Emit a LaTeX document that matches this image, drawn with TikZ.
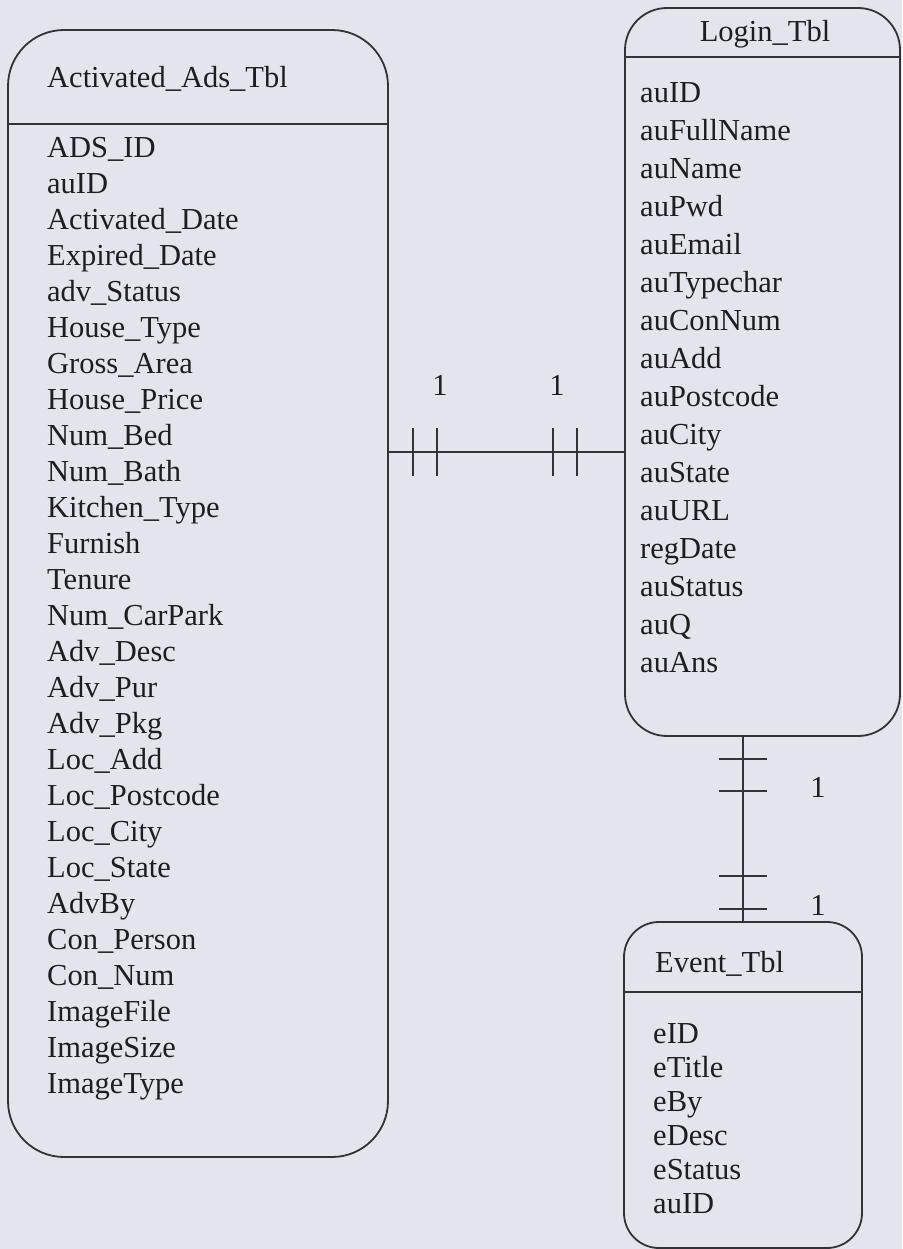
\documentclass[tikz,border=0pt]{standalone}
\usepackage{fontspec}
\setmainfont{Liberation Serif}
\usepackage{xcolor}
\usepackage{tikz}
\usetikzlibrary{positioning, decorations.markings}
\definecolor{paper}{RGB}{228,228,236}
\definecolor{inkgray}{RGB}{50,50,56}
\definecolor{textgray}{RGB}{30,30,34}

\begin{document}
\begin{tikzpicture}[
					x=1pt, y=-1pt,
					tbl/.style={rectangle, draw=inkgray, line width=1.8pt, inner sep=0pt},
					divider/.style={draw=inkgray, line width=1.8pt},
					title/.style={inner sep=0pt, text=textgray, font=\fontsize{30.5}{37}\selectfont},
					fields/.style={inner sep=0pt, align=left, text=textgray, font=\fontsize{30.5}{#1}\selectfont},
					rel/.style={draw=inkgray, line width=1.8pt},
					tick/.style={draw=inkgray, line width=1.8pt},
					card/.style={inner sep=0pt, text=textgray, font=\fontsize{30.5}{37}\selectfont},
					mandone/.style n args={4}{postaction={decorate}, decoration={markings,
						mark=at position #1 with {\draw[tick] (0pt,-24pt) -- (0pt,24pt);},
						mark=at position #2 with {\draw[tick] (0pt,-24pt) -- (0pt,24pt);},
						mark=at position #3 with {\draw[tick] (0pt,-24pt) -- (0pt,24pt);},
						mark=at position #4 with {\draw[tick] (0pt,-24pt) -- (0pt,24pt);}}}
					]
					\useasboundingbox (0,0) rectangle (902,1249);
					\fill[paper] (0,0) rectangle (902,1249);
					
					% Define nodes
					\node[tbl, minimum width=380pt, minimum height=1127pt, rounded corners=56pt] (ads) at (198,593.5) {};
					\node[tbl, minimum width=275pt, minimum height=728pt, rounded corners=42pt] (login) at (762.5,372) {};
					\node[tbl, minimum width=238pt, minimum height=326pt, rounded corners=35pt] (event) at (743,1085) {};
					
					\draw[divider] ([yshift=-95pt]ads.north west) -- ([yshift=-95pt]ads.north east);
					\draw[divider] ([yshift=-50pt]login.north west) -- ([yshift=-50pt]login.north east);
					\draw[divider] ([yshift=-71pt]event.north west) -- ([yshift=-71pt]event.north east);
					
					\node[title, anchor=base west] (adstitle) at (47,88) {Activated\_Ads\_Tbl};
					\node[title, anchor=base] (logintitle) at (765,42) {Login\_Tbl};
					\node[title, anchor=base west] (eventtitle) at (655,972) {Event\_Tbl};
					
					% base = last line
					\node[fields=36, anchor=base west] (adsfields) at (47,1093) {ADS\_ID\\auID\\Activated\_Date\\Expired\_Date\\adv\_Status\\House\_Type\\Gross\_Area\\House\_Price\\Num\_Bed\\Num\_Bath\\Kitchen\_Type\\Furnish\\Tenure\\Num\_CarPark\\Adv\_Desc\\Adv\_Pur\\Adv\_Pkg\\Loc\_Add\\Loc\_Postcode\\Loc\_City\\Loc\_State\\AdvBy\\Con\_Person\\Con\_Num\\ImageFile\\ImageSize\\ImageType};
					\node[fields=38, anchor=base west] (loginfields) at (640,672) {auID\\auFullName\\auName\\auPwd\\auEmail\\auTypechar\\auConNum\\auAdd\\auPostcode\\auCity\\auState\\auURL\\regDate\\auStatus\\auQ\\auAns};
					\node[fields=34, anchor=base west] (eventfields) at (653,1213) {eID\\eTitle\\eBy\\eDesc\\eStatus\\auID};
					
					% Connectors
					\draw[rel, mandone={24pt}{48pt}{-71pt}{-47pt}] ([yshift=141.5pt]ads.east) -- ([yshift=141.5pt]ads.east -| login.west);
					\draw[rel, mandone={22pt}{54pt}{-45pt}{-12pt}] (event.north |- login.south) -- (event.north);
					
					% Cardinalities
					\node[card, anchor=base] (adsone) at (440,395) {1};
					\node[card, anchor=base] (loginone) at (557,395) {1};
					\node[card, anchor=base] (logintwo) at (818,797) {1};
					\node[card, anchor=base] (eventone) at (818,915) {1};
				\end{tikzpicture}
\end{document}
